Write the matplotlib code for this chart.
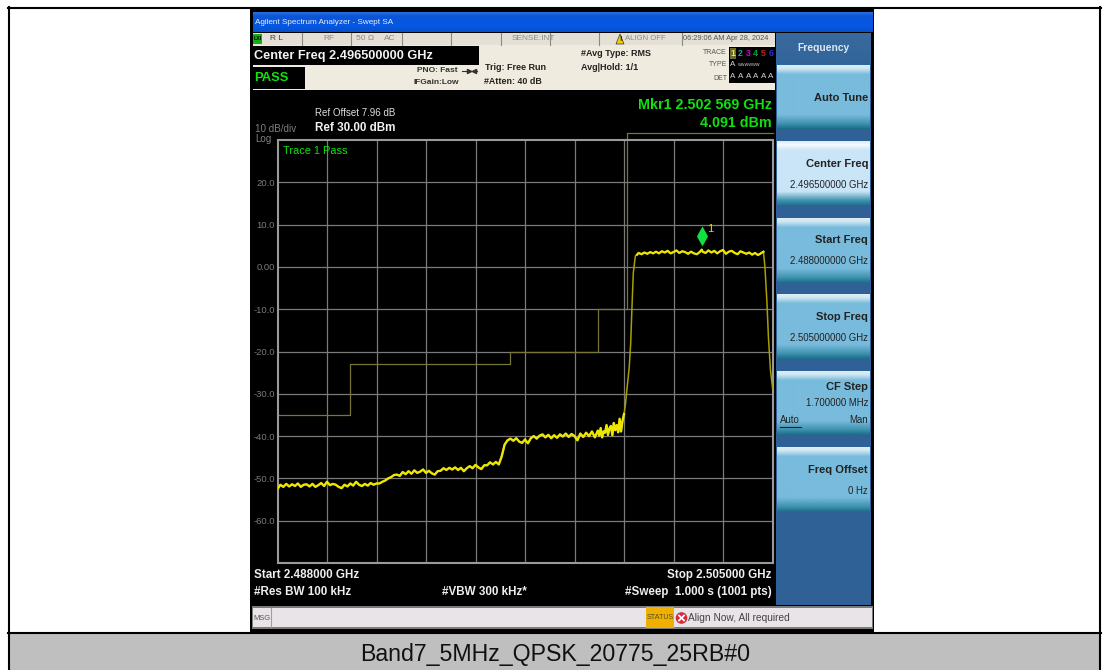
import numpy as np
import matplotlib
matplotlib.use("Agg")
import matplotlib.pyplot as plt
from matplotlib.patches import Rectangle, Polygon, Circle
from matplotlib.path import Path

plt.rcParams['font.family'] = ['Liberation Sans', 'DejaVu Sans']

# sweep settings
start_ghz = 2.488
stop_ghz = 2.505
ref_dbm = 30
bottom_dbm = -70
mkr_ghz = 2.502569
mkr_dbm = 4.091

grid_ghz = [2.4897, 2.4914, 2.4931, 2.4948, 2.4965, 2.4982, 2.4999, 2.5016, 2.5033]
level_ticks = [20, 10, 0, -10, -20, -30, -40, -50, -60]
level_labels = ['20.0', '10.0', '0.00', '-10.0', '-20.0', '-30.0', '-40.0', '-50.0', '-60.0']

# limit line, MHz above start
limit_mhz = [0, 2.5, 8, 11, 12, 17]
limit_dbm = [-35, -23, -20, -10, 31.6, 31.6]

# trace, MHz above start
trace_mhz = [
    0.0, 0.1, 0.2, 0.3, 0.4, 0.5, 0.6, 0.7, 0.8, 0.9,
    1.0, 1.1, 1.2, 1.3, 1.4, 1.5, 1.6, 1.7, 1.8, 1.9,
    2.0, 2.1, 2.2, 2.3, 2.4, 2.5, 2.6, 2.7, 2.8, 2.9,
    3.0, 3.1, 3.2, 3.3, 3.4, 3.5, 3.6, 3.7, 3.8, 3.9,
    4.0, 4.1, 4.2, 4.3, 4.4, 4.5, 4.6, 4.7, 4.8, 4.9,
    5.0, 5.1, 5.2, 5.3, 5.4, 5.5, 5.6, 5.7, 5.8, 5.9,
    6.0, 6.1, 6.2, 6.3, 6.4, 6.5, 6.6, 6.7, 6.8, 6.9,
    7.0, 7.1, 7.2, 7.3, 7.4, 7.5, 7.6, 7.7, 7.8, 7.9,
    8.0, 8.1, 8.2, 8.3, 8.4, 8.5, 8.6, 8.7, 8.8, 8.9,
    9.0, 9.1, 9.2, 9.3, 9.4, 9.5, 9.6, 9.7, 9.8, 9.9,
    10.0, 10.1, 10.2, 10.3, 10.4, 10.5, 10.6, 10.7, 10.8, 10.9,
    11.0, 11.05, 11.1, 11.15, 11.2, 11.25, 11.3, 11.35, 11.4, 11.45,
    11.5, 11.55, 11.6, 11.65, 11.7, 11.75, 11.8, 11.85, 11.9, 11.95,
    12.0, 12.08, 12.13, 12.17, 12.22, 12.29, 12.35,
    12.4, 12.5, 12.6, 12.7, 12.8, 12.9,
    13.0, 13.1, 13.2, 13.3, 13.4, 13.5, 13.6, 13.7, 13.8, 13.9,
    14.0, 14.1, 14.2, 14.3, 14.4, 14.5, 14.57, 14.6, 14.7, 14.8, 14.9,
    15.0, 15.1, 15.2, 15.3, 15.4, 15.5, 15.6, 15.7, 15.8, 15.9,
    16.0, 16.1, 16.2, 16.3, 16.4, 16.5, 16.6,
    16.69, 16.74, 16.81, 16.86, 16.93, 17.0,
]
trace_dbm = [
    -52.5, -51.5, -52.0, -51.3, -51.9, -51.4, -51.8, -51.2, -52.0, -51.5,
    -51.4, -51.9, -51.3, -52.0, -51.6, -51.1, -51.8, -50.8, -51.6, -51.3,
    -51.5, -52.0, -52.3, -51.5, -51.9, -51.2, -51.7, -50.8, -51.5, -51.8,
    -51.3, -51.7, -51.1, -51.5, -51.2, -51.2, -50.8, -50.5, -50.0, -49.7,
    -49.2, -49.1, -49.4, -48.5, -49.0, -48.3, -48.9, -48.1, -48.7, -48.4,
    -47.9, -48.7, -48.2, -48.8, -49.1, -48.3, -48.2, -47.6, -48.0, -47.5,
    -47.9, -47.4, -48.0, -47.5, -48.3, -47.6, -47.1, -47.6, -46.8, -47.4,
    -47.8, -46.9, -46.9, -46.2, -46.7, -46.1, -46.7, -44.8, -42.0, -41.0,
    -40.6, -41.1, -40.5, -41.3, -41.6, -40.8, -41.7, -40.5, -40.0, -40.6,
    -39.9, -39.6, -40.3, -39.7, -40.5, -39.8, -40.4, -39.6, -40.1, -39.4,
    -40.2, -39.5, -40.0, -41.0, -39.4, -40.2, -39.2, -40.0, -38.9, -40.3,
    -38.7, -39.9, -38.1, -40.3, -38.9, -39.2, -37.4, -39.7, -38.2, -37.6,
    -39.8, -36.9, -38.6, -37.4, -39.1, -35.9, -38.9, -36.4, -34.8, -32.5,
    -29.0, -23.7, -18.0, -10.2, -1.4, 2.6, 2.9,
    3.3, 3.0, 3.4, 3.1, 3.5, 3.2,
    3.6, 3.2, 3.7, 3.4, 3.8, 3.2, 3.5, 3.9, 3.3, 3.7,
    3.5, 3.1, 3.6, 3.2, 3.0, 3.5, 4.09, 3.6, 3.3, 3.9, 3.4,
    3.8, 3.2, 3.7, 4.0, 3.1, 3.6, 3.8, 3.3, 3.0, 3.7,
    3.4, 3.1, 3.4, 2.9, 3.3, 2.8, 3.2,
    3.6, 0.0, -8.5, -16.6, -24.4, -28.5,
]

W, H = 1110, 670
fig = plt.figure(figsize=(W / 100, H / 100), dpi=100, facecolor='white')

# whole page in pixels, for the instrument screen around the graticule
bg = fig.add_axes([0, 0, 1, 1])
bg.axis('off')


def box(x0, y0, x1, y1, color, **kw):
    bg.add_patch(Rectangle((x0, y0), x1 - x0, y1 - y0, facecolor=color, edgecolor='none', **kw))


def grad(x0, y0, x1, y1, stops, colors):
    # vertical gradient, stops in 0..1 from the top
    pos = np.linspace(0, 1, 64)
    rgb = np.array([matplotlib.colors.to_rgb(c) for c in colors])
    img = np.stack([np.interp(pos, stops, rgb[:, i]) for i in range(3)], axis=1)[:, None, :]
    bg.imshow(img, extent=(x0, x1, y1, y0), aspect='auto', interpolation='bilinear', zorder=1.5)


def txt(x, y, s, size=7, color='white', weight='normal', ha='left', **kw):
    bg.text(x, y, s, fontsize=size, color=color, fontweight=weight, ha=ha, va='center', zorder=4, **kw)


# report table
bg.plot([9, 9], [7, 670], color='black', lw=1.5)
bg.plot([1100, 1100], [7, 670], color='black', lw=1.5)
bg.plot([8, 1101], [7.5, 7.5], color='black', lw=1.5)
box(10, 634, 1100, 670, '#BFBFBF')
bg.plot([8, 1101], [633, 633], color='black', lw=1.5)
txt(555, 654, 'Band7_5MHz_QPSK_20775_25RB#0', size=16.7, color='#111111', ha='center')

# screen
box(250, 9, 874, 632, 'black')
grad(253, 12, 873, 32, [0, 0.2, 0.7, 1], ['#2C6FDC', '#0B55D8', '#0557E4', '#0A4FC8'])
txt(255, 22, 'Agilent Spectrum Analyzer - Swept SA', size=5.9, color='#E8EEF8')

# status row
box(253, 33, 775, 45, '#E4E0D6')
for xd in [302, 351, 402, 451, 501, 550, 599, 682]:
    bg.plot([xd, xd], [33, 45], color='#8A8A84', lw=0.8, zorder=3)
box(253, 34, 262, 44, '#12B012', zorder=3)
txt(253.5, 39, 'LXI', size=3.8, color='black', weight='bold')
txt(270, 39, 'R L', size=6, color='#444444')
txt(323, 39, 'RF', size=6, color='#8A8A8A')
txt(356, 39, '50 Ω', size=6, color='#8A8A8A')
txt(384, 39, 'AC', size=6, color='#8A8A8A')
txt(512, 39, 'SENSE:INT', size=6, color='#8A8A8A')
bg.add_patch(Polygon([(616, 44), (620, 34), (624, 44)], facecolor='#F2D000', edgecolor='#333333', lw=0.5, zorder=3))
txt(620, 39.8, '!', size=5, color='black', weight='bold', ha='center')
txt(625, 39, 'ALIGN OFF', size=5.6, color='#8A8A8A')
txt(683, 39, '06:29:06 AM Apr 28, 2024', size=5.3, color='#555555')

# settings block
box(253, 45, 775, 90, '#EFEBDF')
box(250, 46, 479, 65, 'black')
txt(254, 56, 'Center Freq 2.496500000 GHz', size=9.2, color='#F2F2F2', weight='bold')
box(253, 67, 305, 89, 'black')
txt(254, 78, 'PASS', size=9.4, color='#10E010', weight='bold')
txt(417, 71, 'PNO: Fast', size=6, color='#333333', weight='bold')
bg.plot([462, 477], [71, 71], color='#333333', lw=0.8, zorder=3)
bg.plot([469], [71], marker='>', ms=3, color='#333333', zorder=3)
bg.plot([474], [71], marker='<', ms=3, color='#333333', zorder=3)
txt(414, 83, 'IFGain:Low', size=6, color='#333333', weight='bold')
txt(485, 67, 'Trig: Free Run', size=6.5, color='#222222', weight='bold')
txt(484, 81, '#Atten: 40 dB', size=6.4, color='#222222', weight='bold')
txt(581, 53, '#Avg Type: RMS', size=6.5, color='#222222', weight='bold')
txt(581, 67, 'Avg|Hold: 1/1', size=6.5, color='#222222', weight='bold')
txt(727, 52, 'TRACE', size=5, color='#555555', ha='right')
txt(727, 65, 'TYPE', size=5, color='#555555', ha='right')
txt(727, 78, 'DET', size=5, color='#555555', ha='right')
box(729, 47, 775, 83, 'black', zorder=3)
box(730, 48, 736, 59, '#6A6A30', zorder=3)
digit_colors = ['#F0F000', '#00B0B0', '#D000D0', '#00A040', '#C02020', '#3030E0']
for i, c in enumerate(digit_colors):
    txt(733 + i * 7.6, 53, str(i + 1), size=6.3, color=c, weight='bold', ha='center')
    txt(733 + i * 7.6, 77, 'A', size=5.8, color='#D8D8D8', ha='center')
txt(733, 65, 'A', size=5.8, color='#D8D8D8', ha='center')
txt(738, 65, 'WWWWWW', size=2.9, color='#D8D8D8')

# labels above and below the graticule
txt(315, 113, 'Ref Offset 7.96 dB', size=7, color='#DDDDDD')
txt(315, 128, 'Ref 30.00 dBm', size=8.4, color='#F0F0F0', weight='bold')
txt(255, 129, '10 dB/div', size=7.1, color='#808080')
txt(255, 139, 'Log', size=7.1, color='#808080')
txt(772, 105, 'Mkr1 2.502 569 GHz', size=10.3, color='#10E010', weight='bold', ha='right')
txt(772, 123, '4.091 dBm', size=10.3, color='#10E010', weight='bold', ha='right')
txt(254, 575, 'Start 2.488000 GHz', size=8.4, color='#EEEEEE', weight='bold')
txt(254, 592, '#Res BW 100 kHz', size=8.4, color='#EEEEEE', weight='bold')
txt(442, 592, '#VBW 300 kHz*', size=8.4, color='#EEEEEE', weight='bold')
txt(771, 575, 'Stop 2.505000 GHz', size=8.4, color='#EEEEEE', weight='bold', ha='right')
txt(772, 592, '#Sweep  1.000 s (1001 pts)', size=8.4, color='#EEEEEE', weight='bold', ha='right')

# message bar
box(252, 606, 873, 629, '#7A7A7A')
box(253, 608, 872, 627, '#E8E4E8')
bg.plot([270.5, 270.5], [608, 627], color='#A0A0A0', lw=0.8, zorder=3)
txt(253.5, 618, 'MSG', size=5.4, color='#555555')
box(646, 607, 674, 628, '#F0B000', zorder=3)
txt(660, 617.5, 'STATUS', size=5.2, color='#555020', ha='center')
bg.add_patch(Circle((681.5, 618), 5.8, facecolor='#D8283A', edgecolor='none', zorder=3))
bg.plot([679, 684], [615.5, 620.5], color='white', lw=1.3, zorder=4)
bg.plot([679, 684], [620.5, 615.5], color='white', lw=1.3, zorder=4)
txt(688, 618, 'Align Now, All required', size=7.3, color='#444444')

# softkeys
box(776, 33, 871, 605, '#2F6096', zorder=1)
grad(776, 33, 871, 65, [0, 1], ['#3A6A9E', '#31659A'])
txt(824, 48, 'Frequency', size=7.4, color='#DCE8F2', weight='bold', ha='center')
key_tops = [65, 141, 218, 294, 371, 447]
key_bottoms = [129, 206, 283, 359, 435, 512]
for k, (top, bot) in enumerate(zip(key_tops, key_bottoms)):
    face = '#C9E5F7' if k == 1 else '#78BBDC'
    grad(777, top, 870, bot, [0, 0.05, 0.14, 0.78, 0.92, 1],
         ['#DDEEF7', '#F4FAFD' if k == 1 else '#CDE6F2', face, face, '#3F93B0', '#1F6E8C'])
txt(868, 98, 'Auto Tune', size=8, color='#222222', weight='bold', ha='right')
txt(868, 164, 'Center Freq', size=8, color='#222222', weight='bold', ha='right')
txt(868, 185, '2.496500000 GHz', size=6.9, color='#222222', ha='right')
txt(868, 240, 'Start Freq', size=8, color='#222222', weight='bold', ha='right')
txt(868, 261, '2.488000000 GHz', size=6.9, color='#222222', ha='right')
txt(868, 317, 'Stop Freq', size=8, color='#222222', weight='bold', ha='right')
txt(868, 338, '2.505000000 GHz', size=6.9, color='#222222', ha='right')
txt(868, 387, 'CF Step', size=8, color='#222222', weight='bold', ha='right')
txt(868, 403, '1.700000 MHz', size=6.9, color='#222222', ha='right')
txt(780, 420, 'Auto', size=6.9, color='#222222')
bg.plot([780, 801], [426.5, 426.5], color='#222222', lw=0.8, zorder=4)
txt(868, 420, 'Man', size=6.9, color='#222222', ha='right')
txt(868, 470, 'Freq Offset', size=8, color='#222222', weight='bold', ha='right')
txt(868, 491, '0 Hz', size=6.9, color='#222222', ha='right')

bg.set_xlim(0, W)
bg.set_ylim(H, 0)

# graticule
left, right, top, bottom = 277.5, 772.5, 140, 563
ax = fig.add_axes([left / W, 1 - bottom / H, (right - left) / W, (bottom - top) / H], facecolor='black')
ax.set_xlim(start_ghz, stop_ghz)
ax.set_ylim(bottom_dbm, ref_dbm)
ax.set_xticks(grid_ghz)
ax.set_xticklabels([])
ax.set_yticks(level_ticks)
ax.set_yticklabels(level_labels, fontsize=6.8, color='#7A7A7A')
ax.tick_params(length=0, pad=2)
ax.grid(True, color='#7A7A7A', lw=0.9)
ax.set_axisbelow(True)
for sp in ax.spines.values():
    sp.set_color('#9A9A9A')
    sp.set_linewidth(1.5)

limit_ghz = start_ghz + np.array(limit_mhz) / 1000
ax.step(limit_ghz, limit_dbm, where='post', color='#77773A', lw=0.9, clip_on=False, zorder=2)

# fast edges show dim on the screen, the slow parts bright and thick
trace_ghz = start_ghz + np.array(trace_mhz) / 1000
trace_arr = np.array(trace_dbm)
ax.plot(trace_ghz, trace_arr, color='#A8A000', lw=1.1, zorder=3)
mhz_arr = np.array(trace_mhz)
low_part = mhz_arr < 11.95
top_part = (mhz_arr > 12.3) & (mhz_arr < 16.7)
ax.plot(trace_ghz[low_part], trace_arr[low_part], color='#EDE600', lw=1.7, zorder=3)
ax.plot(trace_ghz[top_part], trace_arr[top_part], color='#EDE600', lw=1.6, zorder=3)

# marker diamond stands on the marker level
tip = Path([(0, 0), (0.55, 1), (0, 2), (-0.55, 1), (0, 0)])
ax.plot([mkr_ghz], [mkr_dbm + 0.8], marker=tip, ms=29, color='#10E040', mec='none', clip_on=False, zorder=4)
ax.annotate('1', (mkr_ghz, mkr_dbm), xytext=(5.8, 15), textcoords='offset points', color='#E0E000',
            fontsize=8, ha='center', va='center', zorder=4)
ax.text(283, 151, 'Trace 1 Pass', transform=bg.transData, fontsize=7.9, color='#10E010', va='center', zorder=5)

plt.savefig("out.png", dpi=100, facecolor='white')
